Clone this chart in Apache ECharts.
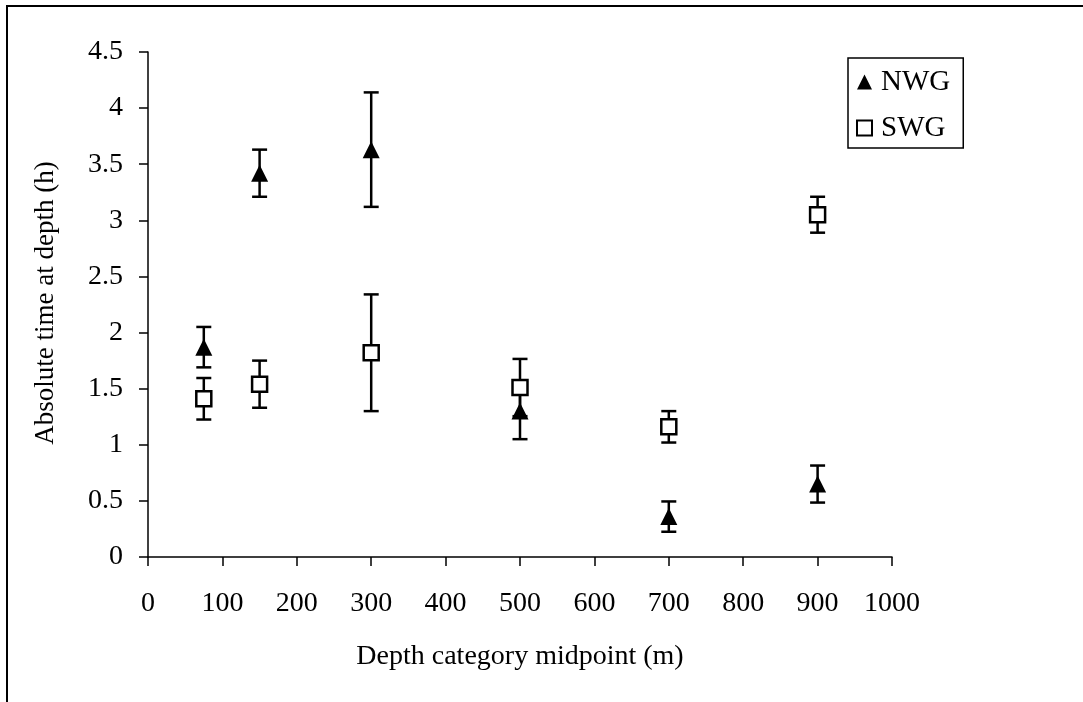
<!DOCTYPE html>
<html>
<head>
<meta charset="utf-8">
<script src="https://cdn.jsdelivr.net/npm/echarts@6/dist/echarts.min.js"></script>
<style>
html,body{margin:0;padding:0;background:#fff;}
#c{width:1083px;height:702px;}
</style>
</head>
<body>
<div id="c"></div>
<script>
// ---- data ----
const nwgDepth = [75, 150, 300, 500, 700, 900];
const nwgMean  = [1.87, 3.42, 3.63, 1.30, 0.36, 0.65];
const nwgErr   = [0.18, 0.21, 0.51, 0.25, 0.135, 0.165];

const swgDepth = [75, 150, 300, 500, 700, 900];
const swgMean  = [1.41, 1.54, 1.82, 1.51, 1.16, 3.05];
const swgErr   = [0.185, 0.21, 0.52, 0.255, 0.14, 0.16];

const xTitle = 'Depth category midpoint (m)';
const yTitle = 'Absolute time at depth (h)';
const seriesNames = ['NWG', 'SWG'];

const FONT = '"Liberation Serif", "Times New Roman", serif';

function pts(xs, ys) { return xs.map((x, i) => [x, ys[i]]); }
function errs(xs, ys, es) { return xs.map((x, i) => [x, ys[i] - es[i], ys[i] + es[i]]); }

function errRender(params, api) {
  const x = api.value(0);
  const lo = api.coord([x, api.value(1)]);
  const hi = api.coord([x, api.value(2)]);
  const hw = 7.5;
  const st = { stroke: '#000', lineWidth: 2.5 };
  return {
    type: 'group',
    children: [
      { type: 'line', shape: { x1: hi[0], y1: hi[1], x2: lo[0], y2: lo[1] }, style: st },
      { type: 'line', shape: { x1: hi[0] - hw, y1: hi[1], x2: hi[0] + hw, y2: hi[1] }, style: st },
      { type: 'line', shape: { x1: lo[0] - hw, y1: lo[1], x2: lo[0] + hw, y2: lo[1] }, style: st }
    ]
  };
}

const chart = echarts.init(document.getElementById('c'), null, { renderer: 'canvas' });
const axisCommon = {
  axisLine: { show: true, lineStyle: { color: '#000', width: 1.5 } },
  axisTick: { show: true, inside: false, length: 9, lineStyle: { color: '#000', width: 1.5 } },
  splitLine: { show: false },
  axisLabel: { color: '#000', fontFamily: FONT, fontSize: 28, formatter: v => String(v) }
};

chart.setOption({
  backgroundColor: '#fff',
  animation: false,
  grid: { left: 148, top: 52, right: 191, bottom: 145, containLabel: false },
  xAxis: Object.assign({}, axisCommon, {
    type: 'value', min: 0, max: 1000, interval: 100,
    axisLabel: Object.assign({}, axisCommon.axisLabel, { margin: 33 })
  }),
  yAxis: Object.assign({}, axisCommon, {
    type: 'value', min: 0, max: 4.5, interval: 0.5,
    axisLabel: Object.assign({}, axisCommon.axisLabel, { margin: 25 })
  }),
  legend: {
    orient: 'vertical',
    left: 848, top: 58,
    data: seriesNames,
    borderColor: '#000', borderWidth: 1.5,
    padding: [9, 13, 5, 8],
    itemGap: 16,
    itemWidth: 15, itemHeight: 15,
    textStyle: { color: '#000', fontFamily: FONT, fontSize: 29, lineHeight: 30, padding: [0, 0, 0, 4] }
  },
  graphic: [
    { type: 'rect', shape: { x: 7, y: 6, width: 1200, height: 1000 }, style: { fill: 'none', stroke: '#000', lineWidth: 2 }, silent: true, z: -1 },
    { type: 'text', x: 520, y: 657, style: { text: xTitle, font: '28px ' + FONT, fill: '#000', align: 'center', verticalAlign: 'middle' } },
    { type: 'text', x: 46, y: 303, rotation: Math.PI / 2, style: { text: yTitle, font: '27px ' + FONT, fill: '#000', align: 'center', verticalAlign: 'middle' } }
  ],
  series: [
    { type: 'custom', name: 'NWG err', renderItem: errRender, data: errs(nwgDepth, nwgMean, nwgErr), encode: { x: 0, y: [1, 2] }, z: 1, silent: true },
    { type: 'custom', name: 'SWG err', renderItem: errRender, data: errs(swgDepth, swgMean, swgErr), encode: { x: 0, y: [1, 2] }, z: 1, silent: true },
    { type: 'scatter', name: 'NWG', symbol: 'triangle', symbolSize: [17, 17], data: pts(nwgDepth, nwgMean),
      itemStyle: { color: '#000', borderColor: '#000', borderWidth: 0, opacity: 1 }, z: 3 },
    { type: 'scatter', name: 'SWG', symbol: 'rect', symbolSize: [15, 15], data: pts(swgDepth, swgMean),
      itemStyle: { color: '#fff', borderColor: '#000', borderWidth: 2.5, opacity: 1 }, z: 4 }
  ]
});
</script>
</body>
</html>
